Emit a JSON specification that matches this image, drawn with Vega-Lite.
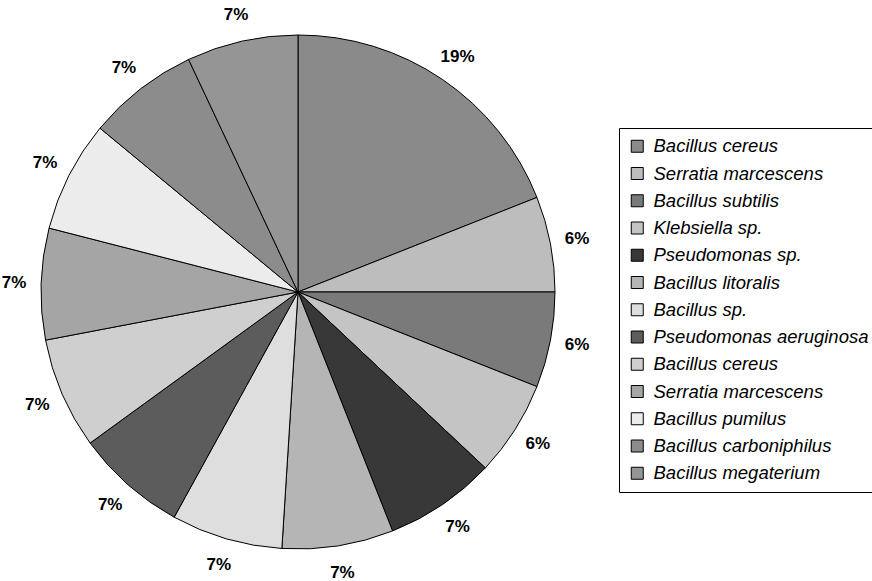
{
  "$schema": "https://vega.github.io/schema/vega-lite/v6.json",
  "width": 596,
  "height": 584,
  "padding": 0,
  "background": "white",
  "view": {"stroke": null},
  "data": {
    "values": [
      {"k": "01 Bacillus cereus", "pct": 19, "label": "19%"},
      {"k": "02 Serratia marcescens", "pct": 6, "label": "6%"},
      {"k": "03 Bacillus subtilis", "pct": 6, "label": "6%"},
      {"k": "04 Klebsiella sp.", "pct": 6, "label": "6%"},
      {"k": "05 Pseudomonas sp.", "pct": 7, "label": "7%"},
      {"k": "06 Bacillus litoralis", "pct": 7, "label": "7%"},
      {"k": "07 Bacillus sp.", "pct": 7, "label": "7%"},
      {"k": "08 Pseudomonas aeruginosa", "pct": 7, "label": "7%"},
      {"k": "09 Bacillus cereus", "pct": 7, "label": "7%"},
      {"k": "10 Serratia marcescens", "pct": 7, "label": "7%"},
      {"k": "11 Bacillus pumilus", "pct": 7, "label": "7%"},
      {"k": "12 Bacillus carboniphilus", "pct": 7, "label": "7%"},
      {"k": "13 Bacillus megaterium", "pct": 7, "label": "7%"}
    ]
  },
  "encoding": {
    "theta": {"field": "pct", "type": "quantitative", "stack": true},
    "order": {"field": "k", "type": "ordinal"}
  },
  "layer": [
    {
      "mark": {"type": "arc", "outerRadius": 257, "stroke": "black", "strokeWidth": 1},
      "encoding": {
        "color": {
          "field": "k",
          "type": "nominal",
          "scale": {
            "domain": ["01 Bacillus cereus", "02 Serratia marcescens", "03 Bacillus subtilis", "04 Klebsiella sp.", "05 Pseudomonas sp.", "06 Bacillus litoralis", "07 Bacillus sp.", "08 Pseudomonas aeruginosa", "09 Bacillus cereus", "10 Serratia marcescens", "11 Bacillus pumilus", "12 Bacillus carboniphilus", "13 Bacillus megaterium"],
            "range": ["#8a8a8a", "#bdbdbd", "#7a7a7a", "#c4c4c4", "#383838", "#b5b5b5", "#dedede", "#5c5c5c", "#cfcfcf", "#a5a5a5", "#ececec", "#8c8c8c", "#959595"]
          },
          "legend": {
            "orient": "none",
            "legendX": 619,
            "legendY": 128,
            "title": null,
            "strokeColor": "black",
            "fillColor": "white",
            "padding": 9,
            "symbolType": "square",
            "symbolSize": 144,
            "symbolStrokeColor": "black",
            "symbolStrokeWidth": 1,
            "labelFont": "Liberation Sans",
            "labelFontStyle": "italic",
            "labelFontSize": 18.5,
            "labelColor": "black",
            "labelOffset": 7,
            "labelLimit": 0,
            "rowPadding": 8.25,
            "labelExpr": "substring(datum.label, 3)"
          }
        }
      }
    },
    {
      "mark": {"type": "text", "radius": 284, "font": "Liberation Sans", "fontWeight": "bold", "fontSize": 17, "color": "black", "align": "center", "baseline": "middle"},
      "encoding": {"text": {"field": "label"}}
    }
  ]
}
